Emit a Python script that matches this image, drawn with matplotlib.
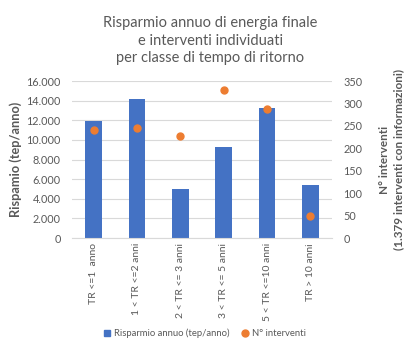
import matplotlib
matplotlib.use("Agg")
import matplotlib.pyplot as plt
import numpy as np

plt.rcParams['font.family'] = ['Lato', 'DejaVu Sans']

classi = ["TR <=1  anno", "1 < TR <=2 anni", "2 < TR <= 3 anni",
          "3 < TR <= 5 anni", "5 < TR <=10 anni", "TR > 10 anni"]
risparmio = [11900, 14200, 5000, 9300, 13300, 5400]
interventi = [240, 245, 228, 331, 288, 49]

blu = "#4472C4"
arancio = "#ED7D31"
grigio = "#595959"

fig = plt.figure(figsize=(4.08, 3.48), dpi=100)
ax = fig.add_axes([0.176, 0.316, 0.638, 0.451])
ax2 = ax.twinx()

x = np.arange(len(classi))
ax.bar(x, risparmio, width=0.38, color=blu, zorder=2, label="Risparmio annuo (tep/anno)")
ax2.plot(x, interventi, "o", color=arancio, markersize=5, zorder=3, label="N° interventi")

ax.set_xlim(-0.5, len(classi) - 0.5)
ax.set_ylim(0, 16000)
ax2.set_ylim(0, 350)
ax.set_yticks(range(0, 16001, 2000))
ax.set_yticklabels([f"{v:,}".replace(",", ".") for v in range(0, 16001, 2000)])
ax2.set_yticks(range(0, 351, 50))

ax.yaxis.grid(True, color="#D9D9D9", linewidth=0.8, zorder=0)
ax.set_axisbelow(True)
for a in (ax, ax2):
    for s in a.spines.values():
        s.set_visible(False)
    a.tick_params(length=0, colors=grigio, labelsize=7.8)
ax.spines['bottom'].set_visible(True)
ax.spines['bottom'].set_color("#D9D9D9")

ax.set_xticks(x)
ax.set_xticklabels(classi, rotation=90, fontsize=7.5, color=grigio)
ax.tick_params(axis='y', pad=8)
ax2.tick_params(axis='y', pad=8)

ax.set_ylabel("Rispamio (tep/anno)", fontsize=9.2, fontweight="bold", color=grigio, labelpad=3)
ax2.set_ylabel("N° interventi\n(1.379 interventi con informazioni)", fontsize=8.5,
               fontweight="bold", color=grigio, labelpad=12, linespacing=1.3)

fig.text(0.515, 0.955, "Risparmio annuo di energia finale\ne interventi individuati\nper classe di tempo di ritorno",
         ha="center", va="top", fontsize=10.5, color=grigio, linespacing=1.35)

h2, l2 = ax2.get_legend_handles_labels()
fig.legend([plt.Line2D([], [], marker="s", color=blu, linestyle="", markersize=4), h2[0]],
           ["Risparmio annuo (tep/anno)"] + l2, loc="center", bbox_to_anchor=(0.5, 0.043),
           ncol=2, frameon=False, fontsize=6.8, labelcolor=grigio,
           handletextpad=0.2, columnspacing=1.2, handlelength=1.0)

fig.savefig("out.png", dpi=100)
